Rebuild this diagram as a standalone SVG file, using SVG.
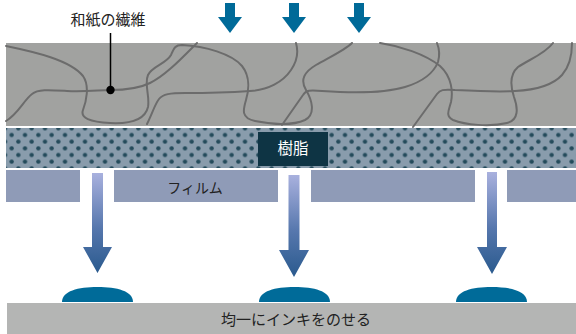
<svg xmlns="http://www.w3.org/2000/svg" width="576" height="334" viewBox="0 0 576 334">
  <style>
    .fiber { fill: none; stroke: #6c6c6c; stroke-width: 2; stroke-linecap: round; stroke-linejoin: round; }
    .jp { font-family: "Noto Sans CJK JP", "Noto Sans", sans-serif; }
    .dark { fill: #222222; }
    .film { fill: #8f9bb7; }
    .blue { fill: #006a98; }
    .ink { fill: #006b99; }
    .garrow { fill: url(#arrowGrad); }
  </style>
  <defs>
    <pattern id="dots" patternUnits="userSpaceOnUse" x="8.333" y="131.667" width="13.333" height="13.333">
      <circle cx="3.333" cy="3.333" r="2.2" fill="#244b5b"/>
      <circle cx="10" cy="10" r="2.2" fill="#244b5b"/>
    </pattern>
    <linearGradient id="arrowGrad" x1="0" y1="0" x2="0" y2="1">
      <stop offset="0" stop-color="#a9b1de"/>
      <stop offset="0.55" stop-color="#5677ad"/>
      <stop offset="1" stop-color="#2a5a8e"/>
    </linearGradient>
  </defs>

  <!-- paper (washi) -->
  <g id="paper">
    <rect x="6" y="43" width="570" height="83" fill="#a1a2a0"/>
    <path class="fiber" d="M6,46 C35,52 70,60 83,76 C90,86 86,102 83,110 C80,118 90,122 110,123 C130,124 145,120 148,107 C150,96 144,84 148,75 C152,66 166,64 171,55 C174,48 175,45 182,45 C205,46 232,54 242,66 C250,76 249,90 246,100 C243,110 241,118 255,121 C270,124 292,126 305,120 C316,114 312,100 306,90 C300,80 304,72 316,65 C330,57 345,50 352,43"/>
    <path class="fiber" d="M6,121 C18,114 24,100 32,94 C38,89 50,90 67,91 C85,92 100,90 110,90 C125,90 140,88 150,83 C165,76 182,58 197,43"/>
    <path class="fiber" d="M147,124 C152,114 155,104 159,99 C163,94 170,93 185,93 C210,93 235,92 250,91 C268,90 283,82 291,70 C298,60 298,50 296,43"/>
    <path class="fiber" d="M282,125 L303,95 C306,90 310,90 322,91 C350,93 385,93 405,87 C425,81 434,72 438,62 C440,55 439,48 437,43"/>
    <path class="fiber" d="M380,43 C400,46 425,54 440,66 C452,77 453,92 451,102 C449,110 445,116 453,120 C465,125 490,127 507,123 C519,120 518,108 514,97 C510,85 510,74 518,67 C528,60 545,54 553,43"/>
    <path class="fiber" d="M413,127 L437,94 C440,90 443,89 455,90 C475,91 500,92 515,91 C535,90 552,86 562,75 C570,66 572,55 572,43"/>
  </g>

  <!-- resin layer -->
  <g id="resin">
    <rect x="6" y="128" width="570" height="40" fill="#899cac"/>
    <rect x="6" y="128" width="570" height="40" fill="url(#dots)"/>
    <rect x="258" y="132" width="70" height="34" fill="#0e3444"/>
    <text class="jp" x="293" y="154" font-size="15.5" fill="#ffffff" text-anchor="middle">樹脂</text>
  </g>

  <!-- film -->
  <g id="film">
    <rect class="film" x="6" y="170" width="74" height="32"/>
    <rect class="film" x="114" y="170" width="164" height="32"/>
    <rect class="film" x="311" y="170" width="164" height="32"/>
    <rect class="film" x="507" y="170" width="69" height="32"/>
    <text class="jp dark" x="195" y="193" font-size="14" text-anchor="middle">フィルム</text>
  </g>

  <!-- base -->
  <g id="base">
    <rect x="7" y="303" width="569" height="31" fill="#b4b5b4"/>
    <text class="jp dark" x="296" y="325" font-size="15" text-anchor="middle">均一にインキをのせる</text>
  </g>

  <!-- ink drops -->
  <g id="ink">
    <path class="ink" d="M62,302 C62,291 78,287 97.5,287 C117,287 133,291 133,302 Z"/>
    <path class="ink" d="M259,302 C259,291 275,287 294.5,287 C314,287 330,291 330,302 Z"/>
    <path class="ink" d="M456,302 C456,291 472,287 491.5,287 C511,287 527,291 527,302 Z"/>
  </g>

  <!-- fiber label -->
  <g id="fiber-label">
    <text class="jp dark" x="108" y="25" font-size="15" text-anchor="middle">和紙の繊維</text>
  </g>

  <!-- connectors -->
  <g id="connectors">
    <line x1="110.5" y1="33" x2="110.5" y2="90" stroke="#000" stroke-width="1.5"/>
    <circle cx="110.5" cy="90" r="4.2" fill="#000"/>
    <!-- pressure arrows -->
    <polygon class="blue" points="225,3 235,3 235,17 242,17 230,33 218,17 225,17"/>
    <polygon class="blue" points="289,3 299,3 299,17 306,17 294,33 282,17 289,17"/>
    <polygon class="blue" points="354,3 364,3 364,17 371,17 359,33 347,17 354,17"/>
    <!-- transfer arrows -->
    <polygon class="garrow" points="92,173 103,173 103,247 112,247 97.5,273 83,247 92,247"/>
    <polygon class="garrow" points="288.5,175 299.5,175 299.5,250 309,250 294,277 279,250 288.5,250"/>
    <polygon class="garrow" points="487,172 497,172 497,247 507,247 492,274 477,247 487,247"/>
  </g>
</svg>
